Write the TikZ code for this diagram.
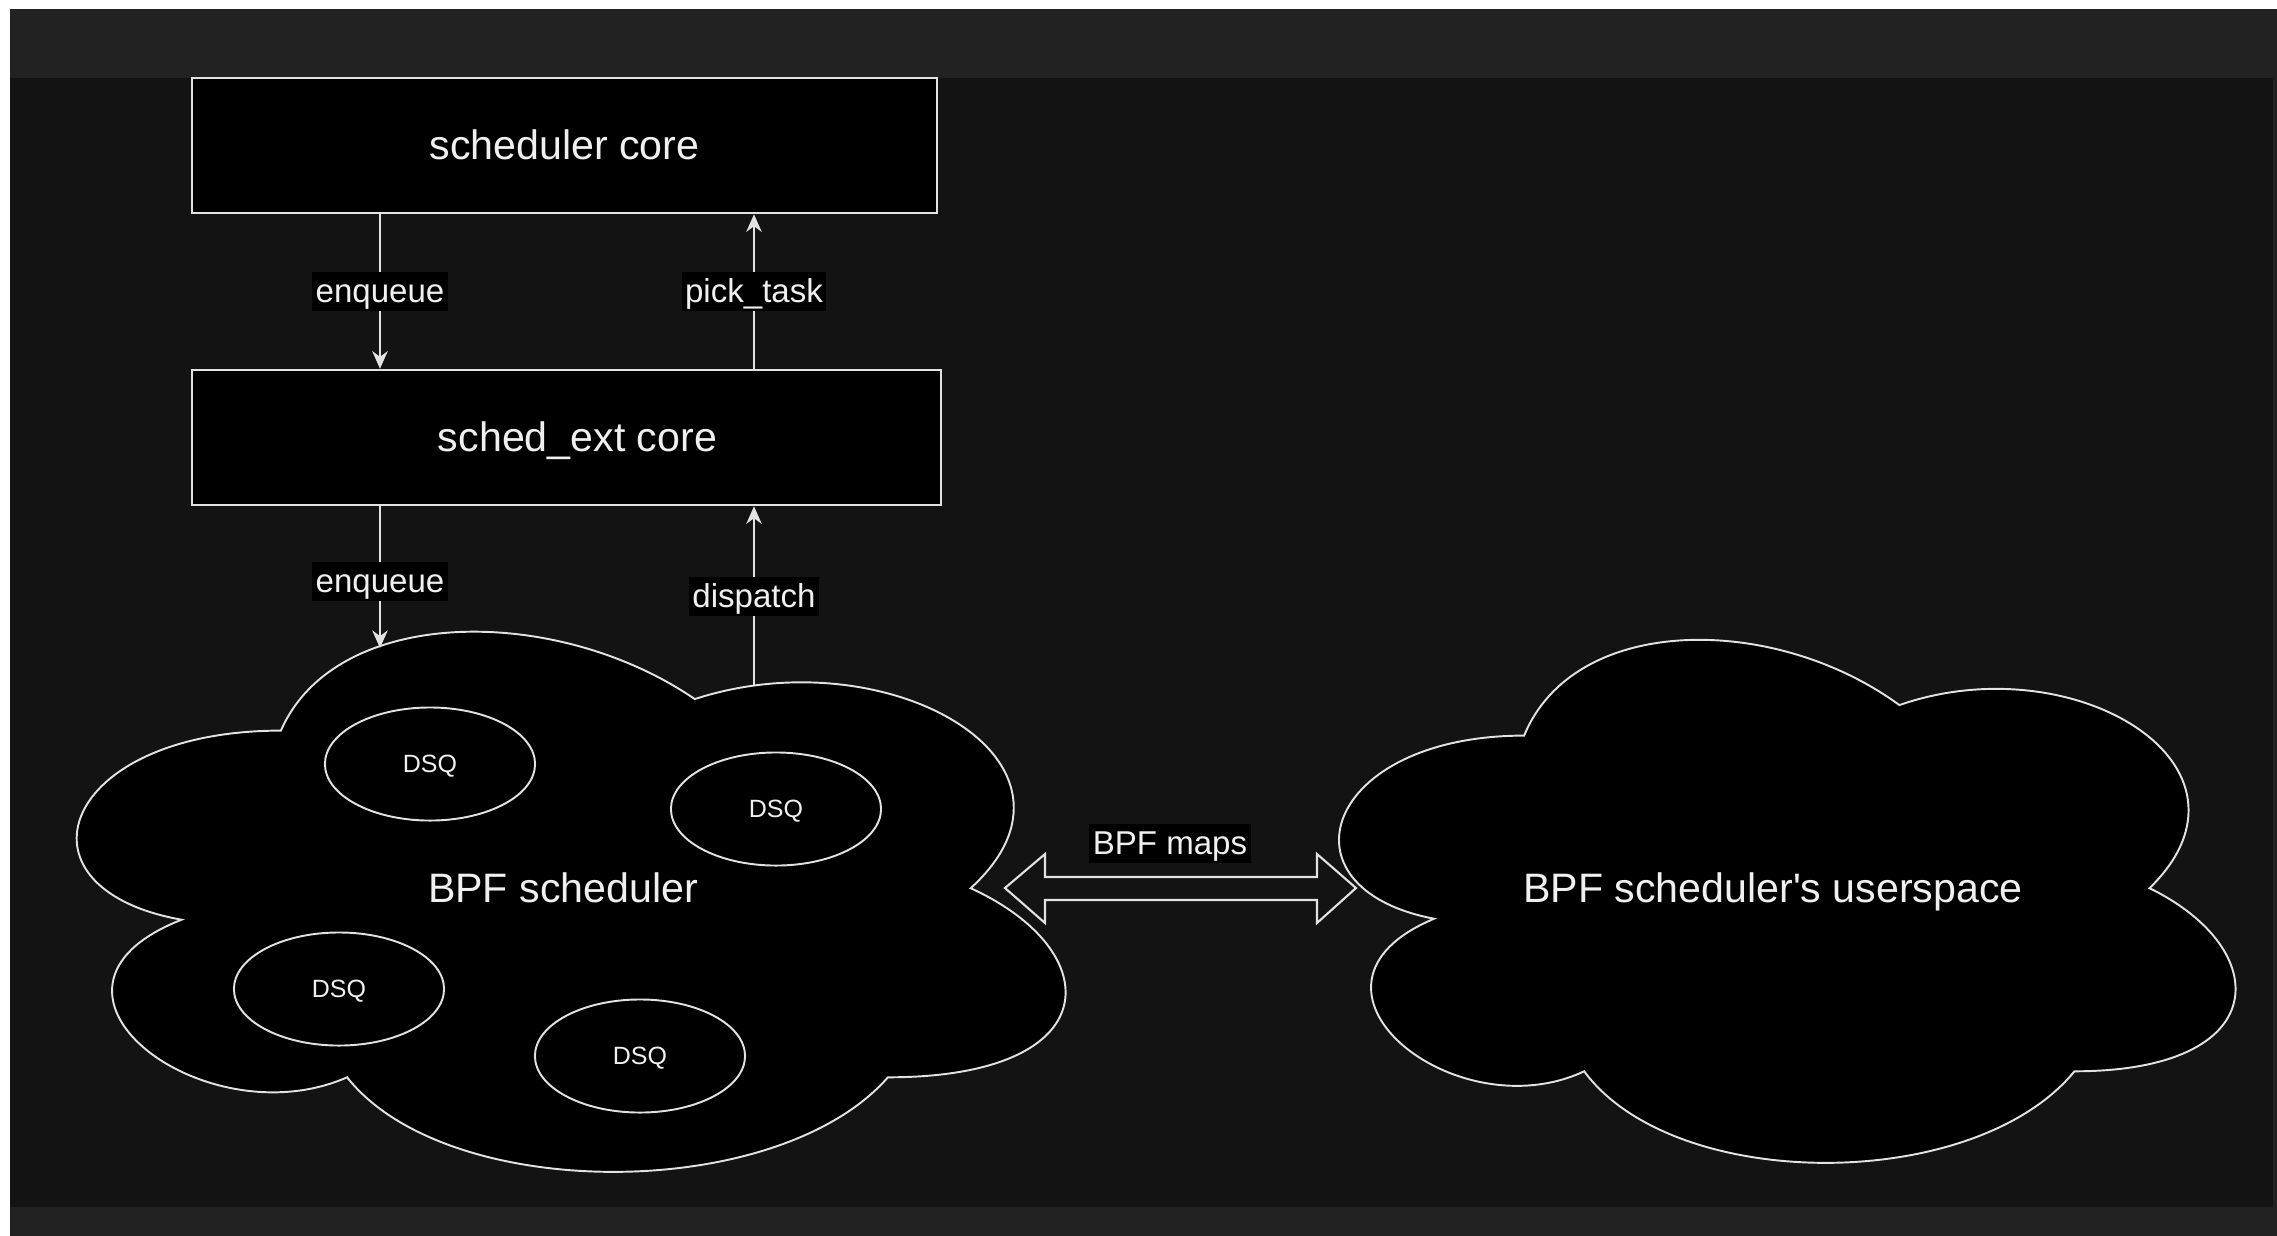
\documentclass[tikz,border=0pt]{standalone}
\usepackage{fontspec}
\setmainfont{Liberation Sans}
\usetikzlibrary{arrows.meta, shapes.geometric}

\definecolor{bandgray}{HTML}{222222}
\definecolor{canvas}{HTML}{131313}
\definecolor{ink}{HTML}{E2E2E2}
\definecolor{txt}{HTML}{F0F0F0}

% cloud outline on the unit square, y pointing down
\newcommand{\cloudpath}{(0.25,0.25) .. controls (0.05,0.25) and (0,0.5) .. (0.16,0.55)
  .. controls (0,0.66) and (0.18,0.9) .. (0.31,0.8)
  .. controls (0.4,1) and (0.7,1) .. (0.8,0.8)
  .. controls (1,0.8) and (1,0.6) .. (0.875,0.5)
  .. controls (1,0.3) and (0.8,0.1) .. (0.625,0.2)
  .. controls (0.5,0.05) and (0.3,0.05) .. (0.25,0.25) -- cycle}

\begin{document}
\begin{tikzpicture}[x=0.01cm, y=-0.01cm,
  big/.style={text=txt, text height=10.6pt, text depth=2.5pt,
    font=\fontsize{11.7pt}{14pt}\selectfont},
  box/.style={big, draw=ink, line width=0.7pt, fill=black, minimum height=1.35cm},
  lbl/.style={fill=black, text=txt, inner xsep=1pt, inner ysep=0.3pt,
    text height=8.5pt, text depth=2pt, font=\fontsize{9.4pt}{11pt}\selectfont},
  edge/.style={draw=ink, line width=0.6pt, -{Stealth[length=5pt, width=4.4pt, inset=1.6pt]}}]
\tikzstyle{cloudline}=[draw=ink, fill=black, line width=0.55pt]
\tikzstyle{dsq}=[ellipse, draw=ink, line width=0.55pt, text=txt, inner sep=0pt,
  text height=6.4pt, text depth=1.5pt,
  minimum width=2.1cm, minimum height=1.13cm, font=\fontsize{7.1pt}{9pt}\selectfont]

% page frame
\useasboundingbox (0,0) rectangle (2277,1235);
\fill[white] (0,0) rectangle (2277,1235);
\fill[bandgray] (10,9) rectangle (2300,1260);
\fill[canvas] (10,78) rectangle (2273,1207);

% kernel side
\node[box, minimum width=7.45cm] (core) at (564.5,145.5) {scheduler core};
\node[box, minimum width=7.49cm] (ext) at (566.5,437.5) {\hspace*{0.22cm}sched\_ext core};

% the two clouds
\begin{scope}[shift={(5,573)}, x=11.03cm, y=-6.3cm]
  \path[cloudline] \cloudpath;
\end{scope}
\begin{scope}[shift={(1274,583)}, x=10cm, y=-6.1cm]
  \path[cloudline] \cloudpath;
\end{scope}
\node[big] (bpf) at (563,888) {BPF scheduler};
\node[big] (user) at (1773,888) {BPF scheduler\textquotesingle s userspace};

\foreach \n/\x/\y in {1/430/764, 2/776/809, 3/339/989, 4/640/1056}{\node[dsq] (dsq\n) at (\x,\y) {DSQ};}

% edges between the layers
\coordinate (enqx) at (380,0);
\coordinate (pickx) at (754,0);
\coordinate (enqin) at (380,648);
\coordinate (dispout) at (754,686);
\draw[edge] (enqx |- core.south) -- node[lbl]{enqueue} (enqx |- ext.north);
\draw[edge] (pickx |- ext.north) -- node[lbl]{pick\_task} (pickx |- core.south);
\draw[edge] (enqx |- ext.south) -- node[lbl, pos=0.53]{enqueue} (enqin);
\draw[edge] (dispout) -- node[lbl]{dispatch} (pickx |- ext.south);

% shared maps
\coordinate (mapL) at (1005,888);
\coordinate (mapR) at (1356,888);
\draw[ink, line width=0.6pt, line join=miter] (mapL) -- ++(40,-34) -- ++(0,23) -- ++(272,0) -- ++(0,-23) -- (mapR)
  -- ++(-39,35) -- ++(0,-23) -- ++(-272,0) -- ++(0,23) -- cycle;
\node[lbl] (maps) at (1170,843) {BPF maps};
\end{tikzpicture}
\end{document}
